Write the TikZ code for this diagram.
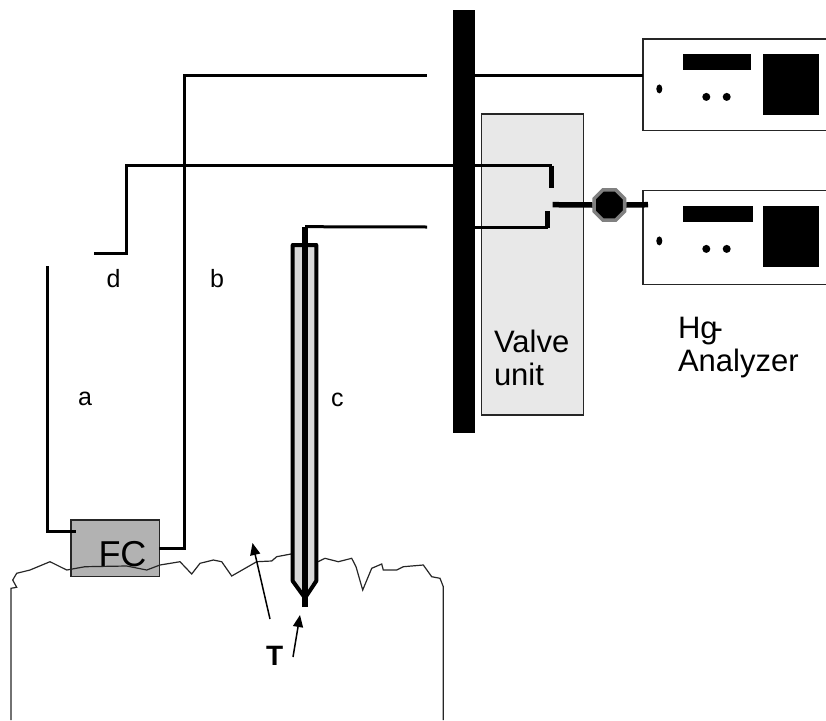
\documentclass[tikz,border=0pt]{standalone}
\usepackage{fontspec}
\setmainfont{Liberation Sans}
\usetikzlibrary{shapes.geometric,arrows.meta}

\newcommand*{\pagew}{826}
\newcommand*{\pageh}{720}
\newcommand*{\pipey}{75.5}

\begin{document}
\begin{tikzpicture}
[
	x=1pt,
	y=-1pt,
	box/.style={rectangle,draw=black!85,line width=1.5pt,inner sep=0pt,outer sep=0pt},
	lbl/.style={inner sep=0pt,outer sep=0pt,anchor=base west},
	bigtext/.style={lbl,font=\fontsize{31}{32.5}\selectfont,align=left},
	smalltext/.style={lbl,font=\fontsize{25}{26}\selectfont},
	pipe/.style={line width=3pt,black},
	fatpipe/.style={line width=5.5pt,black},
	thin line/.style={line width=1.2pt,black!85},
	pointer/.style={line width=1.5pt,-{Triangle[length=12pt,width=10pt]}}
]

	\useasboundingbox (0,0) rectangle (\pagew,\pageh);
	\clip (0,0) rectangle (\pagew,\pageh);

	% valve unit and rack
	\node[box,fill=black!9,minimum width=102pt,minimum height=301pt] (valve) at (532.5,264.7) {};
	\node[rectangle,fill=black,inner sep=0pt,outer sep=0pt,minimum width=22pt,minimum height=423pt] (rack) at (463.5,221.5) {};

	% analyzers
	\node[box,minimum width=192pt,minimum height=91.7pt] (analyzerA) at (739,84.8) {};
	\node[box,minimum width=192pt,minimum height=93.6pt] (analyzerB) at (739,237.5) {};
	\foreach \top/\wid in {53.7/68,205.7/70}
	{
		\fill (683,\top) rectangle ++(\wid,16);
		\fill (763,\top) rectangle ++(56,61.5);
		\fill (659.3,\top+35.2) ellipse [x radius=3pt,y radius=4.5pt];
		\fill (706.3,\top+43.2) circle [radius=4pt];
		\fill (726.7,\top+43.2) circle [radius=4pt];
	}

	% flow chamber
	\node[box,fill=black!30,minimum width=88.5pt,minimum height=56.7pt] (fc) at (115.2,548.3) {};
	\node[lbl,font=\fontsize{36}{36}\selectfont] (fctext) at (98.5,566) {FC};

	% ground
	\draw[thin line] (11,720) -- (11,588.3) -- (16.7,587.3) -- (12.7,580) -- (16.7,573.3) -- (30,570)
		-- (50,561.7) -- (66.7,570) -- (85,566.7) -- (126.7,566) -- (146.7,570) -- (160,565) -- (180,561.7)
		-- (191.7,574) -- (200,563.3) -- (213.3,560) -- (221.7,561.7) -- (231.7,576) -- (256.7,561.7)
		-- (271.7,561) -- (276.7,556.7) -- (291,554);
	\draw[thin line] (318,561.7) -- (325,558.3) -- (338.3,561.7) -- (351.7,558.3) -- (356,566.7)
		-- (362.7,590) -- (371.7,568.3) -- (381.7,564) -- (383.3,570) -- (396.7,570) -- (403.3,566.7)
		-- (423.3,565) -- (431.7,576.7) -- (440,578.3) -- (443.3,586.7) -- (443.3,720);

	% probe
	\coordinate (probetop) at (305,226.7);
	\coordinate (probetip) at (305,607);
	\draw[line width=4pt,black,fill=black!15,line join=round] (292.7,245) -- (316.3,245) -- (316.3,581)
		-- (305,598) -- (292.7,581) -- cycle;
	\draw[fatpipe] (probetip) -- (probetop);

	% lines
	\coordinate (bcorner) at (184.5,\pipey);
	\coordinate (bend) at (427,\pipey);
	\coordinate (aend) at (47.5,266);
	\coordinate (cend) at (427,227);
	\coordinate (dstart) at (94,253);
	\coordinate (dcorner) at (126,165.5);
	\coordinate (portA) at (551.5,165.5);
	\coordinate (portAend) at (551.5,187.5);
	\coordinate (portB) at (547.7,227.5);
	\coordinate (portBend) at (547.7,211);
	\coordinate (outstart) at (552.7,204.7);
	\coordinate (outend) at (648,204.7);

	\draw[pipe] (aend) |- ([xshift=5pt,yshift=17pt]fc.west);
	\draw[pipe] (fc.east) -| (bcorner) -- (bend);
	\draw[pipe] (rack.east |- bend) -- (analyzerA.west |- bend);
	\draw[pipe] (probetop) -- (cend);
	\draw[pipe] (dstart) -| (dcorner) -- (portA);
	\draw[fatpipe] (portA) -- (portAend);
	\draw[pipe] (rack.east |- portB) -- (portB);
	\draw[fatpipe] (portB) -- (portBend);

	% pump
	\node[regular polygon,regular polygon sides=8,draw=black!50,fill=black,line width=3.5pt,inner sep=0pt,minimum size=33pt] (pump) at (609.3,205) {};
	\draw[fatpipe] (outstart) -- (pump.west);
	\draw[fatpipe] (pump.east) -- (outend);

	% labels
	\node[bigtext] (valvetext) at (494,385) {Valve\\unit};
	\node[bigtext] (hgtext) at (678,338) {Hg\kern-5pt-};
	\node[bigtext] (analyzertext) at (678,371) {Analyzer};
	\node[smalltext] (a) at (78,405) {a};
	\node[smalltext] (b) at (210,287) {b};
	\node[smalltext] (c) at (331,406) {c};
	\node[smalltext] (d) at (106.5,287) {d};

	% T marks
	\node[lbl,font=\fontsize{28}{28}\bfseries\selectfont] (t) at (266,665) {T};
	\coordinate (tA) at (270,619);
	\coordinate (tAend) at (252.5,543);
	\coordinate (tB) at (293,657);
	\coordinate (tBend) at (300,615);
	\draw[pointer] (tA) -- (tAend);
	\draw[pointer] (tB) -- (tBend);

\end{tikzpicture}
\end{document}
